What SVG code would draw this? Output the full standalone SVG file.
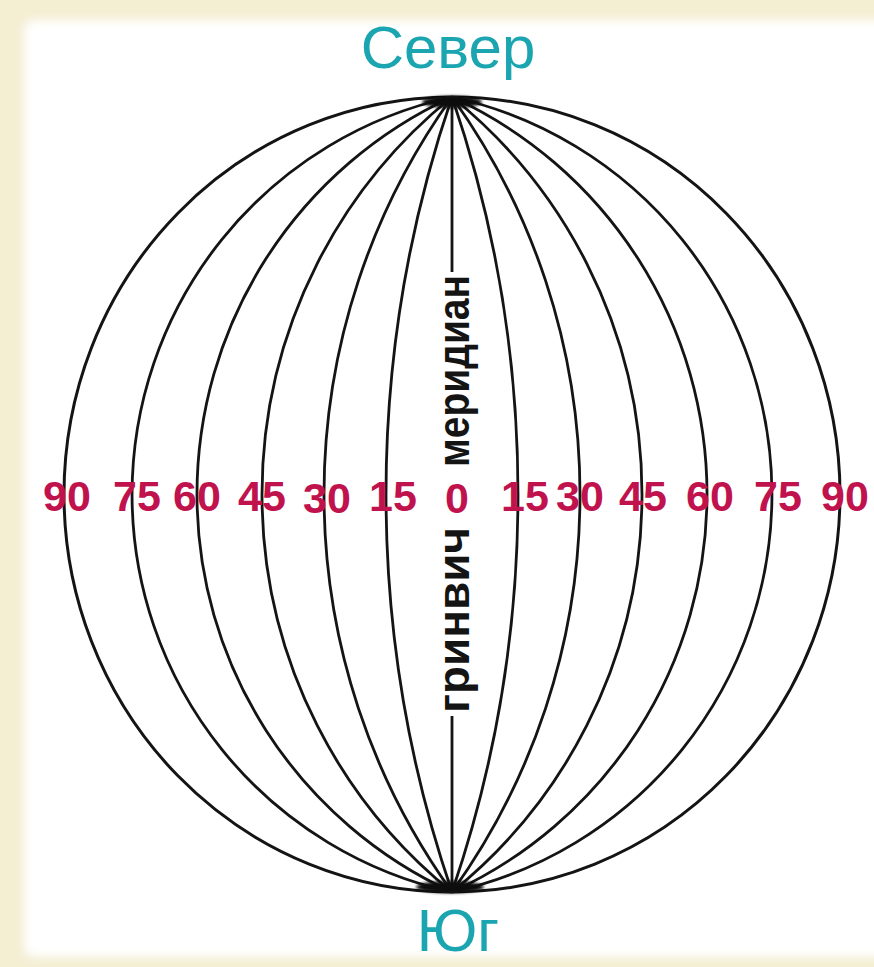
<svg xmlns="http://www.w3.org/2000/svg" width="874" height="967" viewBox="0 0 874 967">
<defs>
<filter id="soft" x="-5%" y="-5%" width="110%" height="110%"><feGaussianBlur stdDeviation="5"/></filter>
<filter id="blur1" x="-20%" y="-50%" width="140%" height="200%"><feGaussianBlur stdDeviation="1.5"/></filter>
<style>
.mer{fill:none;stroke:#141414;stroke-width:2.8}
.outer{fill:none;stroke:#141414;stroke-width:3}
.blob{fill:#0a0a0a;filter:url(#blur1)}
.num{font-family:"Liberation Sans",Arial,sans-serif;font-weight:bold;font-size:43px;fill:#c0124d;text-anchor:middle}
.pole{font-family:"Liberation Sans",Arial,sans-serif;font-size:60px;fill:#1ba5b0;text-anchor:middle}
.gm{font-family:"Liberation Sans",Arial,sans-serif;font-weight:bold;font-size:45px;fill:#141414}
</style>
</defs>
<rect x="0" y="0" width="874" height="967" fill="#f4eed3"/>
<rect x="24" y="20" width="870" height="937" rx="10" fill="#ffffff" filter="url(#soft)"/>
<g id="connectors">
<path class="outer" d="M452,97 A388,397.5 0 0,0 452,892"/>
<path class="outer" d="M452,97 A388,397.5 0 0,1 452,892"/>
<path class="mer" d="M452,97 A406.9,406.9 0 0,0 452,892"/>
<path class="mer" d="M452,97 A406.9,406.9 0 0,1 452,892"/>
<path class="mer" d="M452,97 A437.3,437.3 0 0,0 452,892"/>
<path class="mer" d="M452,97 A437.3,437.3 0 0,1 452,892"/>
<path class="mer" d="M452,97 A510.8,510.8 0 0,0 452,892"/>
<path class="mer" d="M452,97 A510.8,510.8 0 0,1 452,892"/>
<path class="mer" d="M452,97 A681.2,681.2 0 0,0 452,892"/>
<path class="mer" d="M452,97 A681.2,681.2 0 0,1 452,892"/>
<path class="mer" d="M452,97 A1230,1230 0 0,0 452,892"/>
<path class="mer" d="M452,97 A1230,1230 0 0,1 452,892"/>
<path class="mer" d="M452,97 L452,272 M452,716 L452,892"/>
<ellipse class="blob" cx="452" cy="102" rx="30" ry="6"/>
<ellipse class="blob" cx="450" cy="887" rx="34" ry="6"/>
</g>
<g id="north"><text class="pole" x="448" y="68">Север</text></g>
<g id="south"><text class="pole" x="458" y="951">Юг</text></g>
<g id="greenwich">
<text class="gm" transform="translate(469,467) rotate(-90)" textLength="192" lengthAdjust="spacingAndGlyphs">меридиан</text>
<text class="gm" transform="translate(469,713) rotate(-90)" textLength="186" lengthAdjust="spacingAndGlyphs">гринвич</text>
</g>
<g id="labels">
<text class="num" x="67" y="511">90</text>
<text class="num" x="137" y="511">75</text>
<text class="num" x="197" y="511">60</text>
<text class="num" x="262" y="511">45</text>
<text class="num" x="327" y="513">30</text>
<text class="num" x="393" y="511">15</text>
<text class="num" x="457" y="513">0</text>
<text class="num" x="525" y="511">15</text>
<text class="num" x="580" y="511">30</text>
<text class="num" x="643" y="511">45</text>
<text class="num" x="710" y="511">60</text>
<text class="num" x="778" y="511">75</text>
<text class="num" x="845" y="511">90</text>
</g>
</svg>
